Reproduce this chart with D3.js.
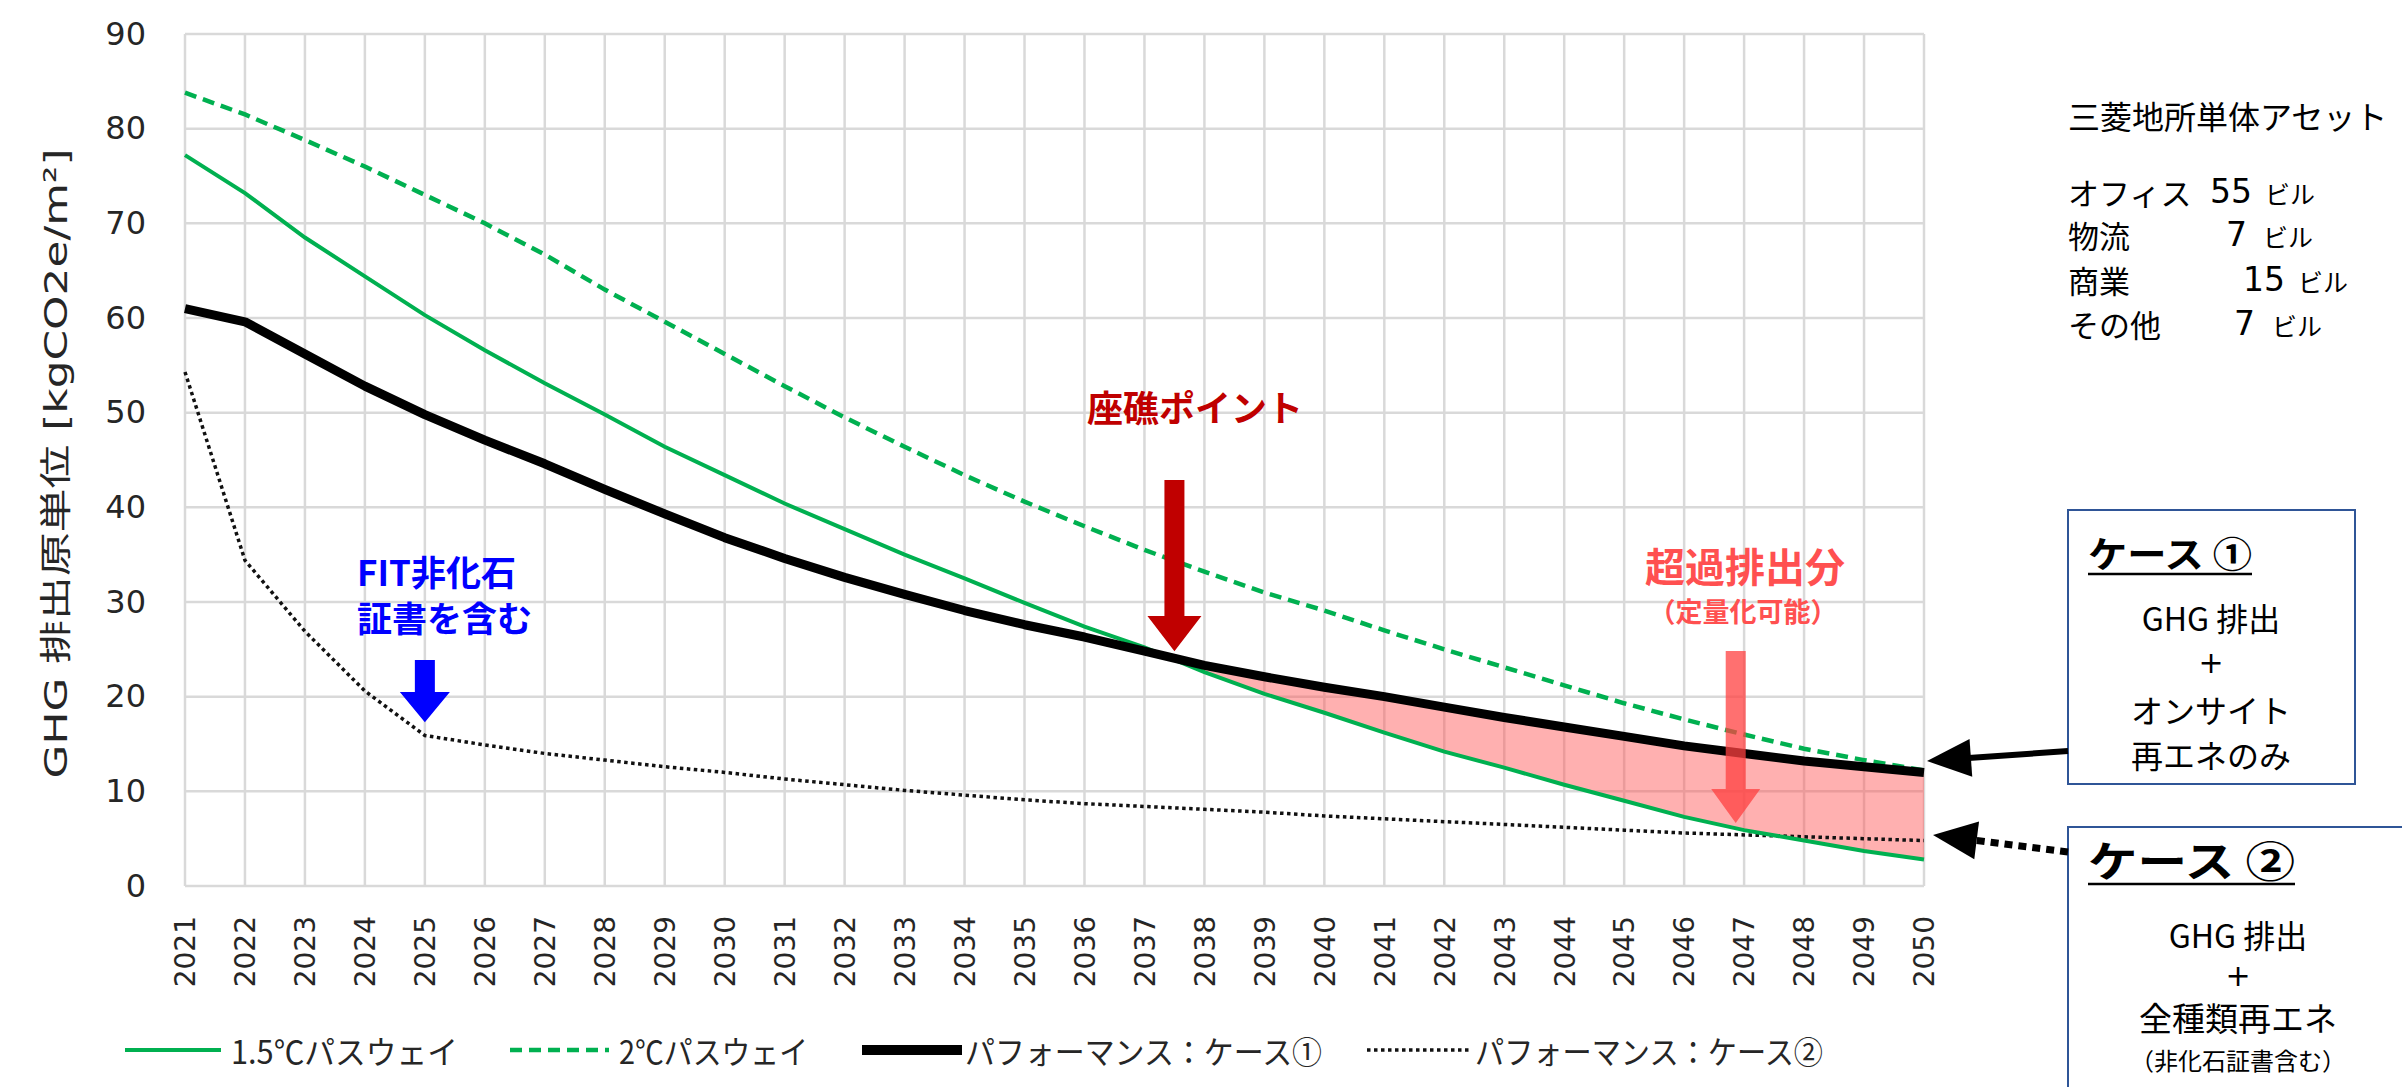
<!DOCTYPE html>
<html><head><meta charset="utf-8">
<script src="https://cdn.jsdelivr.net/npm/d3@7"></script>
<style>body{margin:0;background:#fff;} svg{display:block}</style>
</head><body>
<svg id="c" width="2402" height="1087"></svg>
<script>
// ---------- data ----------
const years = [2021,2022,2023,2024,2025,2026,2027,2028,2029,2030,2031,2032,2033,2034,2035,2036,2037,2038,2039,2040,2041,2042,2043,2044,2045,2046,2047,2048,2049,2050];
const yTicks = [0,10,20,30,40,50,60,70,80,90];
const path15 = [77.2,73.2,68.5,64.4,60.3,56.6,53.1,49.8,46.4,43.4,40.4,37.7,35.0,32.5,29.9,27.4,25.2,22.6,20.3,18.3,16.2,14.2,12.5,10.7,9.0,7.3,5.9,4.8,3.7,2.8];
const path2  = [83.8,81.5,78.8,76.0,73.0,70.0,66.7,63.0,59.6,56.2,52.8,49.5,46.4,43.4,40.6,38.0,35.5,33.2,31.0,29.1,27.0,25.0,23.1,21.2,19.3,17.6,16.0,14.5,13.3,12.2];
const case1  = [61.0,59.6,56.2,52.8,49.8,47.1,44.6,41.9,39.3,36.8,34.6,32.6,30.8,29.1,27.6,26.3,24.8,23.3,22.1,21.0,20.0,18.9,17.8,16.8,15.8,14.8,14.0,13.2,12.6,12.0];
const case2  = [54.3,34.4,26.9,20.6,15.9,14.9,14.0,13.3,12.6,12.0,11.3,10.7,10.1,9.6,9.1,8.7,8.4,8.1,7.8,7.4,7.1,6.8,6.5,6.2,5.9,5.6,5.4,5.2,5.0,4.8];
const excessFromYear = 2037;
const legendLabels = ["1.5℃パスウェイ","2℃パスウェイ","パフォーマンス：ケース①","パフォーマンス：ケース②"];
const yTitle = "GHG 排出原単位 [kgCO2e/m²]";
const assetTitle = "三菱地所単体アセット";
const assetTypes = ["オフィス","物流","商業","その他"];
const assetCounts = [55,7,15,7];
const assetUnit = "ビル";
const case1Lines = ["GHG 排出","+","オンサイト","再エネのみ"];
const case2Lines = ["GHG 排出","+","全種類再エネ","（非化石証書含む）"];

// ---------- setup ----------
const svg = d3.select("#c");
const L = 185, R = 1924, T = 34, B = 886;
const x = d3.scalePoint().domain(years).range([L, R]);
const xl = d3.scaleLinear().domain([years[0], years[years.length-1]]).range([L, R]);
const y = d3.scaleLinear().domain([0, 90]).range([B, T]);
const GREEN = "#00B050", GRID = "#d9d9d9";
const numFont = "'DejaVu Sans', Verdana, sans-serif";
const jpFont = "'Noto Sans CJK JP', 'Noto Sans', sans-serif";

// gridlines
const g = svg.append("g");
g.selectAll(".hg").data(yTicks).enter().append("line")
  .attr("x1", L).attr("x2", R).attr("y1", d => y(d)).attr("y2", d => y(d))
  .attr("stroke", GRID).attr("stroke-width", 2.5);
g.selectAll(".vg").data(years).enter().append("line")
  .attr("x1", d => x(d)).attr("x2", d => x(d)).attr("y1", T).attr("y2", B)
  .attr("stroke", GRID).attr("stroke-width", 2.5);

// y axis
const ya = svg.append("g").attr("transform", `translate(${L},0)`)
  .call(d3.axisLeft(y).tickValues(yTicks).tickSize(0).tickPadding(39));
ya.select(".domain").remove();
ya.selectAll("text").attr("font-family", numFont).attr("font-size", 32).attr("fill", "#262626");

// x axis
const xa = svg.append("g").attr("transform", `translate(0,${B})`)
  .call(d3.axisBottom(x).tickSize(0));
xa.select(".domain").remove();
xa.selectAll("text")
  .attr("transform", "rotate(-90)")
  .attr("x", -30).attr("y", 0).attr("dy", "0.35em")
  .attr("text-anchor", "end")
  .attr("font-family", numFont).attr("font-size", 28).attr("fill", "#262626");

// y title
svg.append("text")
  .attr("transform", `translate(56,${(147+780)/2}) rotate(-90)`)
  .attr("text-anchor", "middle").attr("dominant-baseline", "central")
  .attr("font-family", numFont + ", " + jpFont).attr("font-size", 32).attr("fill", "#262626")
  .attr("textLength", 630).attr("lengthAdjust", "spacingAndGlyphs")
  .text(yTitle);

// excess area
const idx0 = years.indexOf(excessFromYear);
const areaData = years.map((yr, i) => ({yr, lo: path15[i], hi: Math.max(case1[i], path15[i])})).slice(idx0);
svg.append("path").datum(areaData)
  .attr("d", d3.area().x(d => x(d.yr)).y0(d => y(d.lo)).y1(d => y(d.hi)))
  .attr("fill", "#ff5050").attr("fill-opacity", 0.45);

// lines
const line = d3.line().x((d, i) => x(years[i])).y(d => y(d));
svg.append("path").datum(case2).attr("d", line).attr("fill", "none")
  .attr("stroke", "#111").attr("stroke-width", 3.5).attr("stroke-dasharray", "3.5,3.5");
svg.append("path").datum(path15).attr("d", line).attr("fill", "none")
  .attr("stroke", GREEN).attr("stroke-width", 4);
svg.append("path").datum(path2).attr("d", line).attr("fill", "none")
  .attr("stroke", GREEN).attr("stroke-width", 4.5).attr("stroke-dasharray", "12,7");
svg.append("path").datum(case1).attr("d", line).attr("fill", "none")
  .attr("stroke", "#000").attr("stroke-width", 9).attr("stroke-linejoin", "round");

// legend
const legY = 1050;
const legLine = [[125,221],[510,609],[862,962],[1367,1469]];
const legText = [[231,458],[619,808],[965,1322],[1475,1823]];
const legStyle = [
  {stroke: GREEN, w: 4, dash: null},
  {stroke: GREEN, w: 4.5, dash: "12,7"},
  {stroke: "#000", w: 10, dash: null},
  {stroke: "#111", w: 3.5, dash: "3.5,3.5"}];
legendLabels.forEach((lab, i) => {
  const s = legStyle[i];
  svg.append("line").attr("x1", legLine[i][0]).attr("x2", legLine[i][1]).attr("y1", legY).attr("y2", legY)
    .attr("stroke", s.stroke).attr("stroke-width", s.w).attr("stroke-dasharray", s.dash);
  svg.append("text").attr("x", legText[i][0]).attr("y", legY).attr("dominant-baseline", "central")
    .attr("font-family", jpFont).attr("font-size", 32).attr("fill", "#262626")
    .attr("textLength", legText[i][1] - legText[i][0]).attr("lengthAdjust", "spacingAndGlyphs")
    .text(lab);
});

// block arrows
function blockArrow(cx, top, headStart, tip, sw, hw, color, op) {
  const p = d3.path();
  p.moveTo(cx - sw/2, top); p.lineTo(cx + sw/2, top); p.lineTo(cx + sw/2, headStart);
  p.lineTo(cx + hw/2, headStart); p.lineTo(cx, tip); p.lineTo(cx - hw/2, headStart);
  p.lineTo(cx - sw/2, headStart); p.closePath();
  return svg.append("path").attr("d", p.toString()).attr("fill", color).attr("fill-opacity", op || 1);
}
// 座礁ポイント
svg.append("text").attr("x", 1195).attr("y", 406).attr("text-anchor", "middle").attr("dominant-baseline", "central")
  .attr("font-family", jpFont).attr("font-weight", "bold").attr("font-size", 36).attr("fill", "#C00000")
  .text("座礁ポイント");
blockArrow(xl(2037.5), 480, 616, y(24.8), 20, 54, "#C00000");

// FIT
svg.append("text").attr("x", 357).attr("y", 570).attr("dominant-baseline", "central")
  .attr("font-family", jpFont).attr("font-weight", "bold").attr("font-size", 35).attr("fill", "#0000FF")
  .text("FIT非化石");
svg.append("text").attr("x", 357).attr("y", 616).attr("dominant-baseline", "central")
  .attr("font-family", jpFont).attr("font-weight", "bold").attr("font-size", 35).attr("fill", "#0000FF")
  .text("証書を含む");
blockArrow(xl(2025), 660, 692, y(17.3), 20, 50, "#0000FF");

// 超過排出分
svg.append("text").attr("x", 1745).attr("y", 565).attr("text-anchor", "middle").attr("dominant-baseline", "central")
  .attr("font-family", jpFont).attr("font-weight", "bold").attr("font-size", 40).attr("fill", "#FF5050")
  .text("超過排出分");
svg.append("text").attr("x", 1743).attr("y", 610).attr("text-anchor", "middle").attr("dominant-baseline", "central")
  .attr("font-family", jpFont).attr("font-weight", "bold").attr("font-size", 27).attr("fill", "#FF5050")
  .text("（定量化可能）");
blockArrow(xl(2046.86), 651, 789, y(6.65), 20, 49, "#FF4040", 0.75);

// right panel
const rp = svg.append("g").attr("font-family", jpFont).attr("fill", "#000");
rp.append("text").attr("x", 2068).attr("y", 115).attr("dominant-baseline", "central")
  .attr("font-size", 32).text(assetTitle);
const rowY = [191, 234, 279, 323];
const numEnd = [2252, 2247, 2285, 2255];
const unitX = [2265, 2263, 2298, 2272];
assetTypes.forEach((t, i) => {
  rp.append("text").attr("x", 2068).attr("y", rowY[i]).attr("dominant-baseline", "central").attr("font-size", 31).text(t);
  rp.append("text").attr("x", numEnd[i]).attr("y", rowY[i]).attr("text-anchor", "end").attr("dominant-baseline", "central")
    .attr("font-family", numFont).attr("font-size", 33).text(assetCounts[i]);
  rp.append("text").attr("x", unitX[i]).attr("y", rowY[i] + 2).attr("dominant-baseline", "central").attr("font-size", 25).text(assetUnit);
});

// case boxes
const BOX = "#2F5597";
svg.append("rect").attr("x", 2068).attr("y", 510).attr("width", 287).attr("height", 274)
  .attr("fill", "#fff").attr("stroke", BOX).attr("stroke-width", 2);
svg.append("rect").attr("x", 2068).attr("y", 827).attr("width", 340).attr("height", 300)
  .attr("fill", "#fff").attr("stroke", BOX).attr("stroke-width", 2);

function caseTitle(txt, x0, yc, fs, len, ul) {
  svg.append("text").attr("x", x0).attr("y", yc).attr("dominant-baseline", "central")
    .attr("font-family", jpFont).attr("font-weight", "bold").attr("font-size", fs)
    .attr("textLength", len).attr("lengthAdjust", "spacingAndGlyphs").text(txt);
  svg.append("line").attr("x1", x0).attr("x2", x0 + len).attr("y1", ul).attr("y2", ul)
    .attr("stroke", "#000").attr("stroke-width", 2.5);
}
caseTitle("ケース ①", 2088, 552, 36, 164, 574);
caseTitle("ケース ②", 2088, 858, 42, 207, 884);

const c1Y = [617, 662, 709, 754];
const c1F = [32, 30, 32, 32];
case1Lines.forEach((t, i) => {
  svg.append("text").attr("x", 2211).attr("y", c1Y[i]).attr("text-anchor", "middle").attr("dominant-baseline", "central")
    .attr("font-family", i === 1 ? numFont : jpFont).attr("font-size", c1F[i]).text(t);
});
const c2Y = [934, 975, 1017, 1059];
const c2F = [32, 30, 33, 24];
case2Lines.forEach((t, i) => {
  svg.append("text").attr("x", 2238).attr("y", c2Y[i]).attr("text-anchor", "middle").attr("dominant-baseline", "central")
    .attr("font-family", i === 1 ? numFont : jpFont).attr("font-size", c2F[i]).text(t);
});

// connector arrows
function lineArrow(x1, y1, x2, y2, w, dash) {
  const ang = Math.atan2(y2 - y1, x2 - x1);
  const hl = 44, hw = 19;
  const bx = x2 - hl * Math.cos(ang), by = y2 - hl * Math.sin(ang);
  svg.append("line").attr("x1", x1).attr("y1", y1).attr("x2", bx + 6*Math.cos(ang)).attr("y2", by + 6*Math.sin(ang))
    .attr("stroke", "#000").attr("stroke-width", w).attr("stroke-dasharray", dash);
  const px = -Math.sin(ang), py = Math.cos(ang);
  svg.append("path").attr("d", `M${x2},${y2}L${bx + hw*px},${by + hw*py}L${bx - hw*px},${by - hw*py}Z`).attr("fill", "#000");
}
lineArrow(2068, 751, xl(2050) + 3, y(13.2), 6, null);
lineArrow(2068, 852, xl(2050) + 9, y(5.4), 7, "8,6");
</script>
</body></html>
